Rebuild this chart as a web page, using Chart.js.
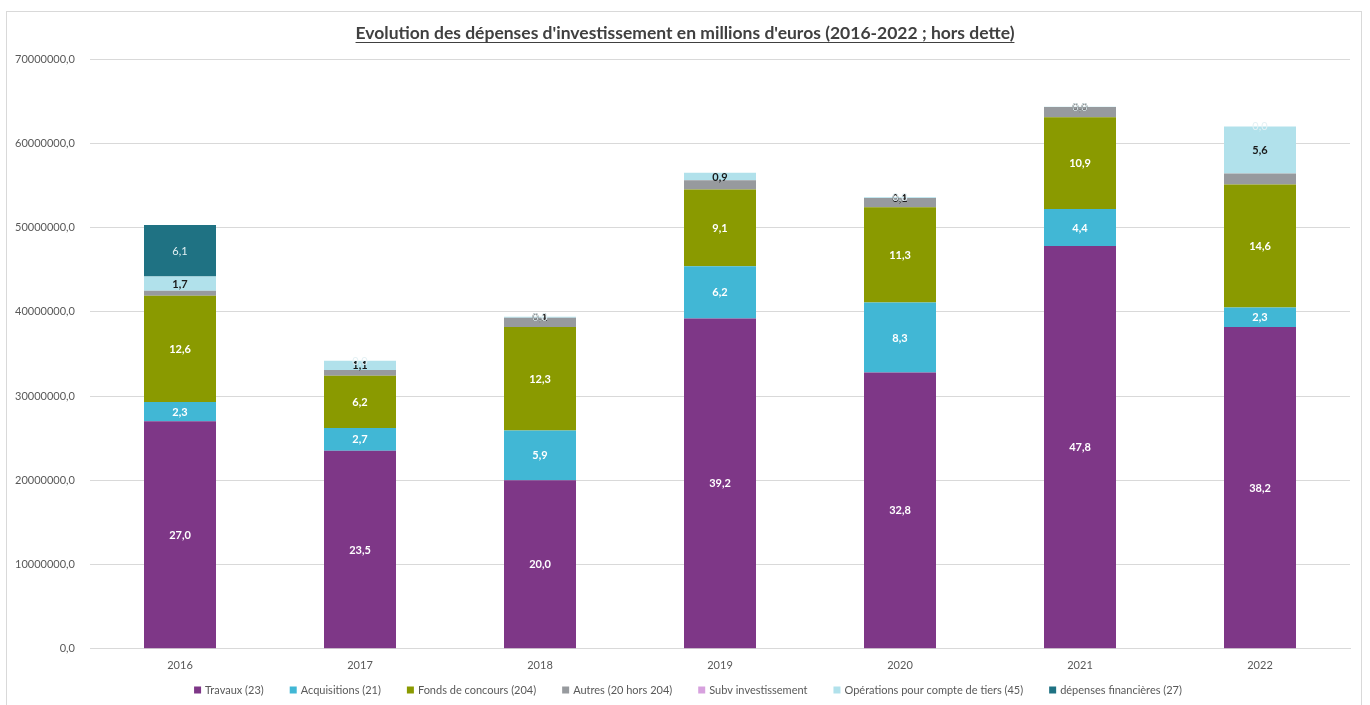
<!DOCTYPE html>
<html lang="fr">
<head>
<meta charset="utf-8">
<title>Evolution des dépenses d'investissement</title>
<script src="https://cdn.jsdelivr.net/npm/chart.js@4.4.1/dist/chart.umd.min.js"></script>
<style>
  html, body { margin: 0; padding: 0; background: #ffffff; }
  #wrap { position: relative; width: 1370px; height: 705px; }
</style>
</head>
<body>
<div id="wrap"><canvas id="chart" width="1370" height="705"></canvas></div>
<script>
// Années
const annees = ['2016', '2017', '2018', '2019', '2020', '2021', '2022'];

// Dépenses par nature (euros)
const travaux       = [27000000, 23500000, 20000000, 39200000, 32800000, 47800000, 38200000];
const acquisitions  = [2300000, 2700000, 5900000, 6200000, 8300000, 4400000, 2300000];
const fondsConcours = [12600000, 6200000, 12300000, 9100000, 11300000, 10900000, 14600000];
const autres        = [600000, 700000, 1100000, 1100000, 1100000, 1200000, 1300000];
const subvInvest    = [null, null, null, null, null, null, null];
const operations    = [1700000, 1100000, 100000, 900000, 100000, 40000, 5600000];
const financieres   = [6100000, 0, 0, null, 0, 0, 0];

// Graduations de l'axe vertical
const yTicks = [0, 10000000, 20000000, 30000000, 40000000, 50000000, 60000000, 70000000];

const titre = "Evolution des dépenses d'investissement en millions d'euros (2016-2022 ; hors dette)";
const police = 'Lato, "Open Sans", sans-serif';

const series = [
  { label: 'Travaux (23)', data: travaux, color: '#7E3787', lbl: '#ffffff' },
  { label: 'Acquisitions (21)', data: acquisitions, color: '#41B7D5', lbl: '#ffffff' },
  { label: 'Fonds de concours (204)', data: fondsConcours, color: '#8A9A00', lbl: '#ffffff' },
  { label: 'Autres (20 hors 204)', data: autres, color: '#979A9E', lbl: null },
  { label: 'Subv investissement', data: subvInvest, color: '#D7A1DE', lbl: null },
  { label: 'Opérations pour compte de tiers (45)', data: operations, color: '#B1E1EB', lbl: '#1a1a1a' },
  { label: 'dépenses financières (27)', data: financieres, color: '#1F7283', lbl: '#E4F1F4' }
];

const fmt = v => (v / 1e6).toFixed(1).replace('.', ',');

// Cadre, titre souligné, légende et étiquettes de valeurs
const decor = {
  id: 'decor',
  beforeDraw(chart) {
    const ctx = chart.ctx;
    ctx.save();
    ctx.fillStyle = '#ffffff';
    ctx.fillRect(0, 0, chart.width, chart.height);
    ctx.strokeStyle = '#d9d9d9';
    ctx.lineWidth = 1;
    ctx.strokeRect(6.5, 11.5, 1355, 710);
    ctx.restore();
  },
  afterDatasetsDraw(chart) {
    const ctx = chart.ctx;
    ctx.save();
    ctx.textAlign = 'center';
    ctx.textBaseline = 'middle';
    chart.data.datasets.forEach((ds, i) => {
      if (!ds.lblColor) return;
      const meta = chart.getDatasetMeta(i);
      if (meta.hidden) return;
      meta.data.forEach((bar, j) => {
        const v = ds.data[j];
        if (v === null || v === undefined) return;
        const p = bar.getProps(['x', 'y', 'base'], true);
        ctx.font = (i === 6 ? 'normal' : 'bold') + ' 11px ' + police;
        ctx.fillStyle = ds.lblColor;
        ctx.fillText(fmt(v), p.x, (p.y + p.base) / 2 + 0.5);
      });
    });
    ctx.restore();
  },
  afterDraw(chart) {
    const ctx = chart.ctx;
    ctx.save();
    // titre souligné
    ctx.font = 'bold 17.5px ' + police;
    ctx.fillStyle = '#404040';
    ctx.textAlign = 'center';
    ctx.textBaseline = 'alphabetic';
    const cx = 685, by = 39;
    ctx.fillText(titre, cx, by);
    const w = ctx.measureText(titre).width;
    ctx.strokeStyle = '#404040';
    ctx.lineWidth = 1;
    ctx.beginPath();
    ctx.moveTo(cx - w / 2, by + 3.5);
    ctx.lineTo(cx + w / 2, by + 3.5);
    ctx.stroke();

    // légende
    ctx.font = '11px ' + police;
    ctx.textAlign = 'left';
    ctx.textBaseline = 'middle';
    const box = 7, gapBox = 4, gapItem = 26, ly = 690;
    const items = chart.data.datasets.map(ds => ({
      text: ds.label, color: ds.backgroundColor,
      w: box + gapBox + ctx.measureText(ds.label).width
    }));
    const total = items.reduce((s, it) => s + it.w, 0) + gapItem * (items.length - 1);
    let x = 688 - total / 2;
    items.forEach(it => {
      ctx.fillStyle = it.color;
      ctx.fillRect(x, ly - box / 2, box, box);
      ctx.fillStyle = '#595959';
      ctx.fillText(it.text, x + box + gapBox, ly + 0.5);
      x += it.w + gapItem;
    });
    ctx.restore();
  }
};

new Chart(document.getElementById('chart'), {
  type: 'bar',
  data: {
    labels: annees,
    datasets: series.map(s => ({
      label: s.label,
      data: s.data,
      backgroundColor: s.color,
      borderWidth: 0,
      lblColor: s.lbl,
      categoryPercentage: 1.0,
      barPercentage: 0.4
    }))
  },
  options: {
    responsive: false,
    animation: false,
    layout: { padding: { top: 59, right: 20, left: 0, bottom: 23 } },
    plugins: {
      title: { display: false },
      tooltip: { enabled: false },
      legend: { display: false }
    },
    scales: {
      x: {
        stacked: true,
        grid: { display: false, drawTicks: false },
        border: { display: true, color: '#d9d9d9' },
        ticks: { color: '#595959', font: { family: police, size: 11 }, padding: 10 }
      },
      y: {
        stacked: true,
        min: 0,
        max: 70000000,
        afterFit(scale) { scale.width = 90; },
        afterBuildTicks(scale) { scale.ticks = yTicks.map(v => ({ value: v })); },
        grid: { color: '#d9d9d9', drawTicks: false },
        border: { display: false },
        ticks: {
          color: '#595959',
          font: { family: police, size: 11 },
          padding: 15,
          callback: v => (v === 0 ? '0,0' : v.toFixed(1).replace('.', ','))
        }
      }
    }
  },
  plugins: [decor]
});
</script>
</body>
</html>
